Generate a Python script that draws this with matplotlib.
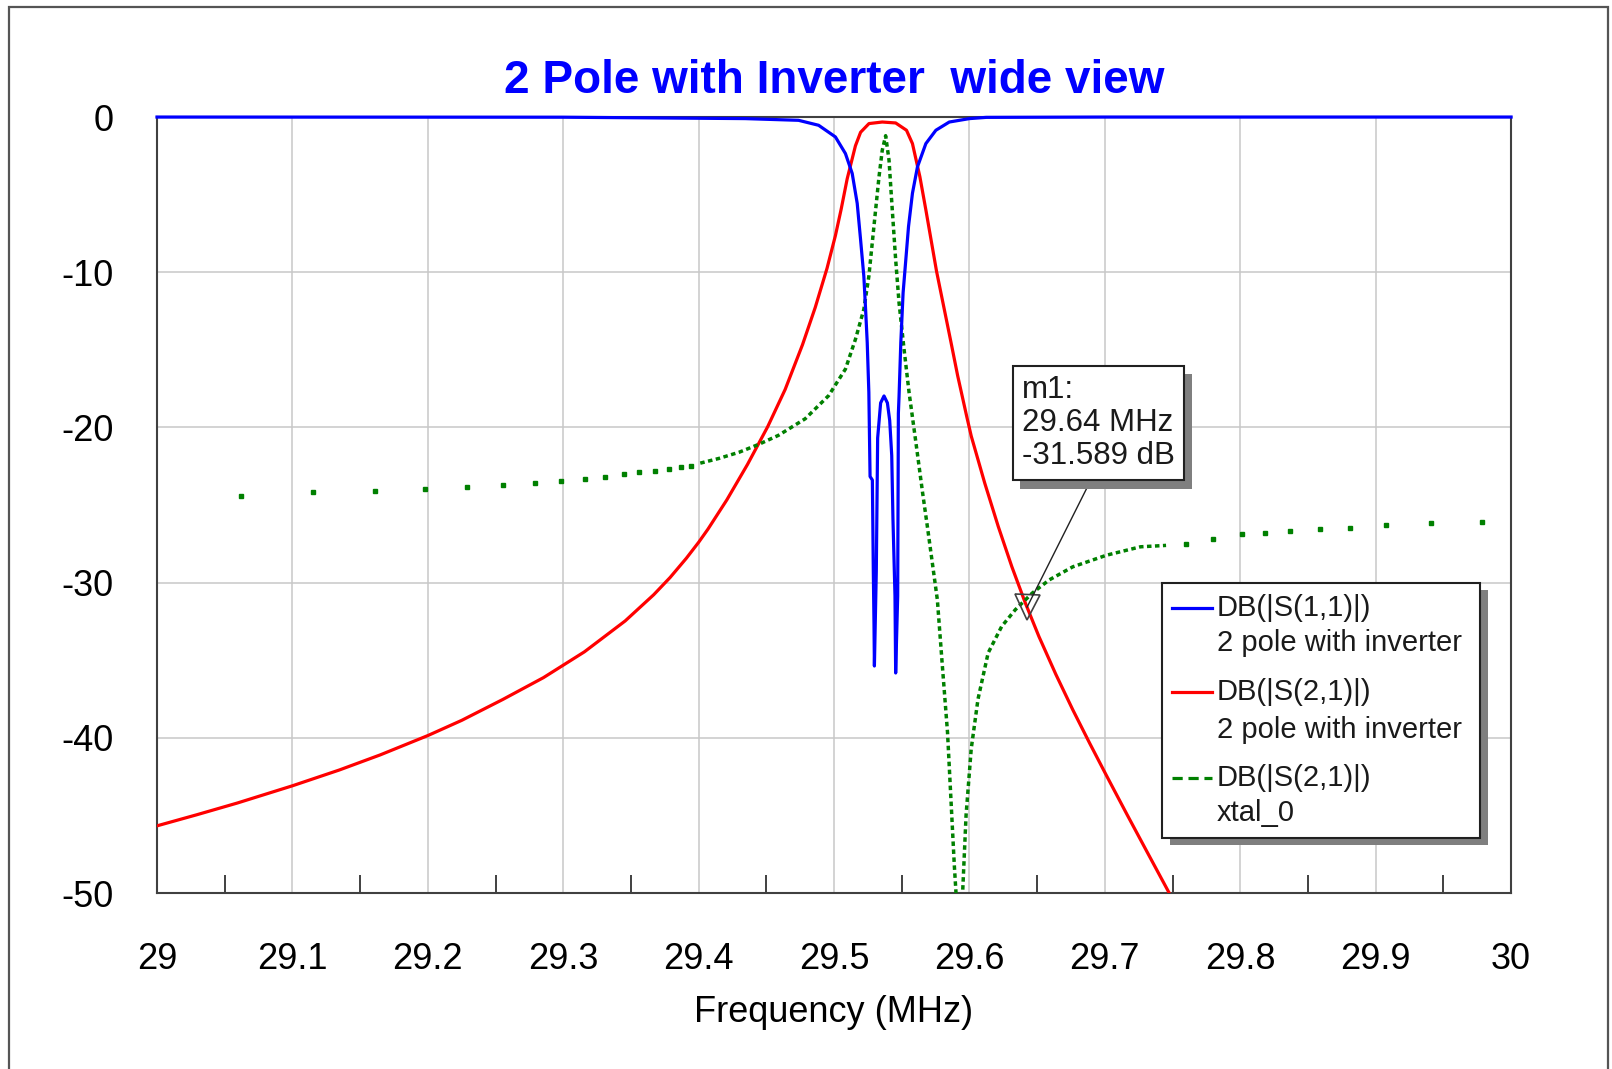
import matplotlib
matplotlib.use("Agg")
import matplotlib.pyplot as plt
import matplotlib.patheffects as pe
from matplotlib.patches import Rectangle
from matplotlib.ticker import AutoMinorLocator

plt.rcParams["font.family"] = ["Liberation Sans", "DejaVu Sans"]
plt.rcParams["axes.unicode_minus"] = False

# ---- data (MHz, dB) ----
# DB(|S(1,1)|)  2 pole with inverter
s11_freq = [29.0, 29.30, 29.4342, 29.4738, 29.4886, 29.501, 29.5084, 29.5134, 29.5171,
            29.5196, 29.522, 29.5233, 29.5245, 29.5257, 29.5266, 29.5283, 29.5290,
            29.5295, 29.5298, 29.5312, 29.5322, 29.5344, 29.5369, 29.5394, 29.5411,
            29.5426, 29.5435, 29.5450, 29.5455, 29.5470, 29.5475, 29.548, 29.5493,
            29.551, 29.553, 29.555, 29.5579, 29.5616, 29.5678, 29.5752, 29.5851,
            29.60, 29.6124, 29.70, 30.0]
s11_db = [0.0, -0.01, -0.1, -0.21, -0.53, -1.28, -2.35, -3.63, -5.56,
          -7.91, -10.26, -12.39, -14.53, -17.74, -23.16, -23.39, -29.27,
          -32.66, -35.37, -29.27, -20.68, -18.42, -17.97, -18.42, -19.55,
          -21.81, -25.88, -30.85, -35.82, -30.85, -19.1, -18.0, -14.53,
          -11.32, -9.19, -7.05, -4.91, -3.21, -1.71, -0.85, -0.32,
          -0.1, -0.02, 0.0, 0.0]

# DB(|S(2,1)|)  2 pole with inverter
s21_freq = [29.0, 29.0292, 29.0593, 29.1, 29.1347, 29.1648, 29.2001, 29.2251, 29.2553,
            29.2854, 29.3156, 29.3457, 29.3668, 29.3789, 29.3909, 29.4, 29.4069,
            29.4208, 29.4361, 29.451, 29.4639, 29.4767, 29.4861, 29.4948, 29.501,
            29.5052, 29.5097, 29.5158, 29.5196, 29.5258, 29.5356, 29.5455, 29.5535,
            29.5579, 29.5634, 29.5678, 29.5757, 29.5864, 29.5913, 29.598, 29.6013,
            29.6113, 29.6213, 29.6313, 29.6413, 29.6513, 29.6638, 29.6763, 29.6888,
            29.7013, 29.7163, 29.7313, 29.7463, 29.756]
s21_db = [-45.67, -44.96, -44.20, -43.09, -42.07, -41.10, -39.85, -38.87, -37.53,
          -36.12, -34.46, -32.47, -30.78, -29.67, -28.43, -27.40, -26.55,
          -24.67, -22.38, -19.95, -17.55, -14.67, -12.27, -9.75, -7.64,
          -5.96, -3.98, -1.85, -0.98, -0.42, -0.32, -0.38, -0.85,
          -1.71, -3.85, -5.98, -9.94, -14.53, -16.67, -19.3, -20.55,
          -23.59, -26.39, -28.97, -31.32, -33.47, -35.91, -38.19, -40.35,
          -42.45, -44.93, -47.37, -49.80, -51.4]

# DB(|S(2,1)|)  xtal_0 : densely sampled middle part
xtal_freq = [29.4012, 29.4148, 29.4298, 29.4441, 29.4589, 29.4787, 29.4960, 29.5084,
             29.5158, 29.5220, 29.5257, 29.5282, 29.5307, 29.5332, 29.5356, 29.5381,
             29.5406, 29.5430, 29.5455, 29.5480, 29.5517, 29.5554, 29.5604, 29.5653,
             29.5691, 29.5763, 29.5800, 29.5838, 29.5863, 29.5888, 29.5900, 29.5925,
             29.5950, 29.5975, 29.6013, 29.6063, 29.6138, 29.6238, 29.6338, 29.6463,
             29.6588, 29.6763, 29.7013, 29.7263, 29.7452]
xtal_db = [-22.3, -22.0, -21.6, -21.1, -20.51, -19.44, -17.95, -16.24,
           -14.32, -12.39, -10.26, -8.12, -5.98, -3.85, -2.14, -1.2,
           -2.78, -5.98, -9.19, -11.97, -14.96, -17.74, -20.94, -24.15,
           -26.50, -31.11, -35.38, -39.65, -43.92, -48.19, -49.9, -58.0,
           -49.9, -44.98, -40.71, -37.51, -34.53, -32.82, -31.75, -30.68,
           -29.83, -28.98, -28.23, -27.69, -27.6]
# xtal_0 : sparse samples on both skirts (drawn as single dots)
xtal_tail_freq = [29.0617, 29.1151, 29.1608, 29.1979, 29.2289, 29.2554, 29.2792, 29.2982,
                  29.3160, 29.3307, 29.3446, 29.3563, 29.3675, 29.3783, 29.3873, 29.3940,
                  29.7599, 29.7795, 29.8015, 29.8186, 29.8369, 29.8589, 29.8809, 29.9078,
                  29.9408, 29.9787]
xtal_tail_db = [-24.40, -24.18, -24.12, -23.97, -23.86, -23.71, -23.61, -23.48,
                -23.35, -23.22, -23.00, -22.88, -22.81, -22.68, -22.58, -22.51,
                -27.53, -27.20, -26.88, -26.77, -26.67, -26.56, -26.45, -26.30,
                -26.13, -26.09]

marker_freq = 29.6425
marker_db = -31.589
marker_text = "m1:\n29.64 MHz\n-31.589 dB"

x_ticks = [29.0, 29.1, 29.2, 29.3, 29.4, 29.5, 29.6, 29.7, 29.8, 29.9, 30.0]
x_tick_labels = ["29", "29.1", "29.2", "29.3", "29.4", "29.5", "29.6", "29.7", "29.8", "29.9", "30"]
y_ticks = [0, -10, -20, -30, -40, -50]

legend_first = ["DB(|S(1,1)|)", "DB(|S(2,1)|)", "DB(|S(2,1)|)"]
legend_second = ["2 pole with inverter", "2 pole with inverter", "xtal_0"]
legend_colors = ["#0000ff", "#ff0000", "#008000"]
legend_styles = ["-", "-", (0, (3.2, 1.8))]

title_text = "2 Pole with Inverter  wide view"

# ---- figure ----
fig = plt.figure(figsize=(16.12, 10.69), dpi=100)
ax = fig.add_axes([0.0974, 0.1646, 0.8400, 0.7259])

ax.plot(s21_freq, s21_db, color="#ff0000", lw=2.3, zorder=3)
ax.plot(xtal_freq, xtal_db, color="#008000", lw=2.5, ls=(0, (1.3, 1.0)), zorder=4)
ax.plot(xtal_tail_freq, xtal_tail_db, ls="none", marker="s", ms=3, color="#008000", zorder=4)
ax.plot(s11_freq, s11_db, color="#0000ff", lw=2.3, zorder=5, clip_on=False)

# marker m1
ax.plot([marker_freq], [marker_db], marker="v", ms=18, mfc="none", mec="#404040", mew=1.2, zorder=6)
ann = ax.annotate(marker_text, xy=(marker_freq, marker_db), xycoords="data",
                  xytext=(0.6388, 0.6675), textcoords="axes fraction",
                  ha="left", va="top", fontsize=22.5, linespacing=1.13, color="#1a1a1a",
                  bbox=dict(boxstyle="square,pad=0.3", fc="white", ec="#202020", lw=1.5),
                  arrowprops=dict(arrowstyle="-", color="#202020", lw=1, relpos=(0.48, 0),
                                  shrinkA=0, shrinkB=0),
                  zorder=7)
ann.get_bbox_patch().set_path_effects(
    [pe.withSimplePatchShadow(offset=(5.5, -6), shadow_rgbFace="#7f7f7f", alpha=1.0)])

# legend box, drawn by hand so the line sits next to the first text line
box = Rectangle((0.7422, 0.0709), 0.2349, 0.3286, transform=ax.transAxes,
                fc="white", ec="#202020", lw=1.5, zorder=8)
box.set_path_effects([pe.withSimplePatchShadow(offset=(5.5, -5), shadow_rgbFace="#7f7f7f", alpha=1.0)])
ax.add_patch(box)
first_y = [0.3673, 0.2590, 0.1482]
second_y = [0.3222, 0.2101, 0.1031]
for i in range(3):
    ax.plot([0.7496, 0.7792], [first_y[i], first_y[i]], transform=ax.transAxes,
            color=legend_colors[i], ls=legend_styles[i], lw=2.3, zorder=9)
    ax.text(0.7829, first_y[i], legend_first[i], transform=ax.transAxes,
            fontsize=21, va="center", color="#1a1a1a", zorder=9)
    ax.text(0.7829, second_y[i], legend_second[i], transform=ax.transAxes,
            fontsize=21, va="center", color="#1a1a1a", zorder=9)

# axes styling
ax.set_xlim(29.0, 30.0)
ax.set_ylim(-50, 0)
ax.set_xticks(x_ticks)
ax.set_xticklabels(x_tick_labels)
ax.set_yticks(y_ticks)
ax.xaxis.set_minor_locator(AutoMinorLocator(2))
ax.tick_params(axis="both", which="major", length=0, labelsize=26, colors="#000000")
ax.tick_params(axis="x", which="major", pad=35)
ax.tick_params(axis="y", which="major", pad=31)
ax.tick_params(axis="x", which="minor", direction="in", length=13, width=1.4, color="#404040")
ax.grid(True, which="major", color="#c8c8c8", lw=1.1)
ax.set_axisbelow(True)
for sp in ax.spines.values():
    sp.set_color("#404040")
    sp.set_linewidth(1.5)

ax.set_title(title_text, color="#0000ff", fontsize=33, fontweight="bold", pad=17)
ax.set_xlabel("Frequency (MHz)", fontsize=26, labelpad=13)

# outer frame of the exported graph window
fig.add_artist(Rectangle((9 / 1612, -0.05), 1599 / 1612, 1.0435, transform=fig.transFigure,
                         fill=False, ec="#555555", lw=1.6))

fig.savefig("out.png", dpi=100)
